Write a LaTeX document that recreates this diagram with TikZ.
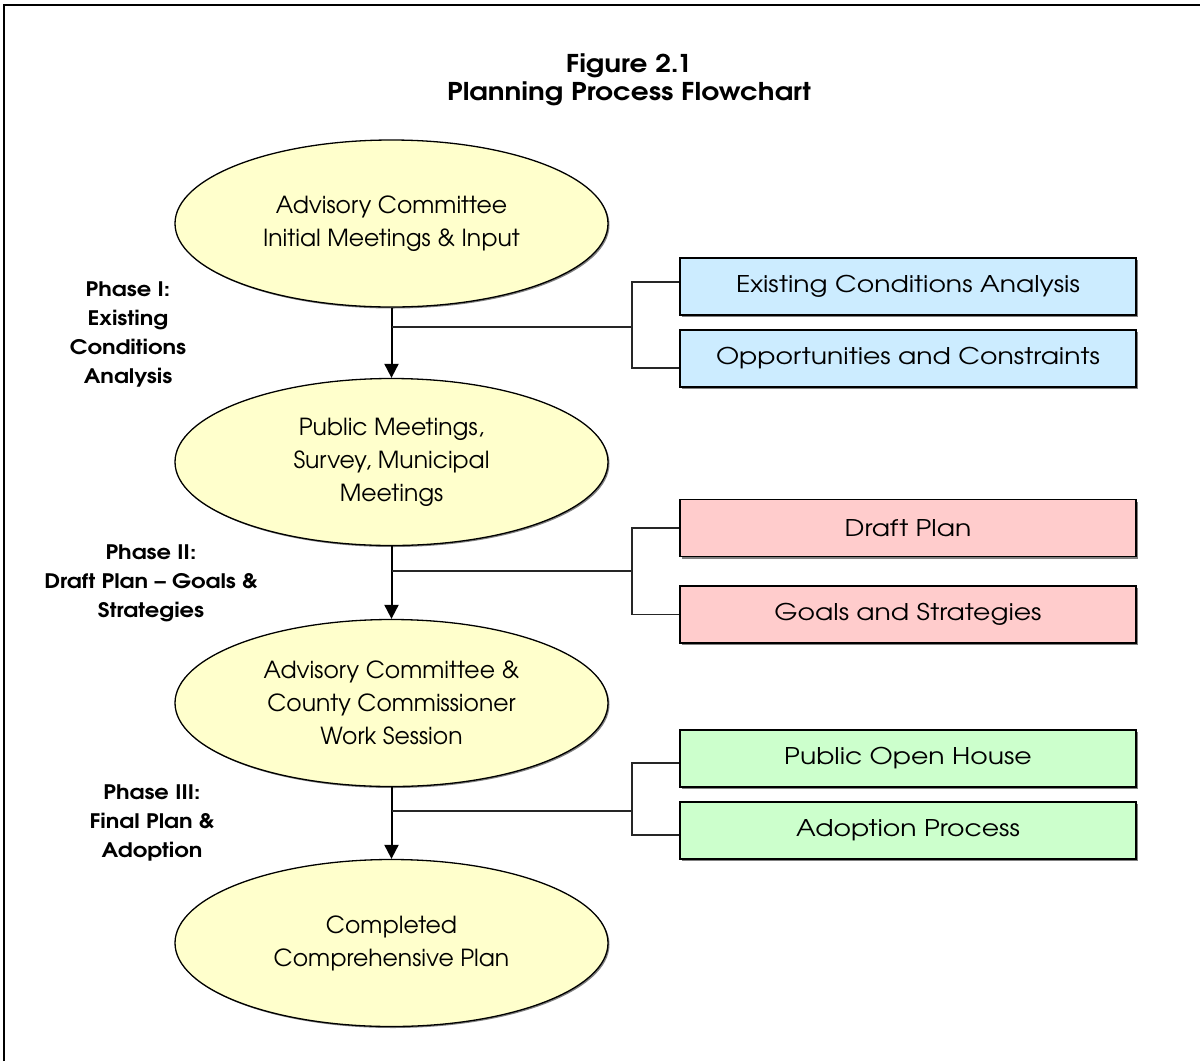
\documentclass[tikz,border=0pt]{standalone}
\usepackage{fontspec}
\setmainfont{TeX Gyre Adventor}
\newfontfamily\widefont[FakeStretch=1.16]{TeX Gyre Adventor}
\newfontfamily\labelfont[FakeStretch=1.13]{TeX Gyre Adventor}
\newfontfamily\titlefont[FakeStretch=1.14]{TeX Gyre Adventor}
\usetikzlibrary{shapes.geometric,arrows.meta,shadows}

\definecolor{stageyellow}{RGB}{255,255,204}
\definecolor{taskblue}{RGB}{204,236,255}
\definecolor{taskpink}{RGB}{255,204,204}
\definecolor{taskgreen}{RGB}{204,255,204}
\definecolor{shadowgray}{RGB}{128,128,128}

\tikzset{
  stage/.style={ellipse, draw=black, line width=1.3pt, fill=stageyellow,
    minimum width=433pt, minimum height=167pt, inner sep=0pt, align=center,
    font=\fontsize{23.5}{33}\selectfont,
    drop shadow={shadow xshift=1.5pt, shadow yshift=-1.5pt, fill=shadowgray, opacity=1}},
  task/.style={rectangle, draw=black, line width=1.8pt,
    minimum width=456pt, minimum height=57pt, inner sep=0pt,
    font=\widefont\fontsize{23}{33}\selectfont,
    drop shadow={shadow xshift=2pt, shadow yshift=-2pt, fill=shadowgray, opacity=1}},
  phase/.style={align=center, inner sep=0pt, font=\labelfont\bfseries\fontsize{20}{29}\selectfont},
  flow/.style={line width=2pt, -{Triangle[width=14pt,length=14pt]}},
  bracket/.style={line width=1.6pt, draw=black!85},
}

\begin{document}
\begin{tikzpicture}[x=1pt,y=-1pt]
\useasboundingbox (0,0) rectangle (1200,1061);
\fill[white] (0,0) rectangle (1200,1061);

% outer frame
\draw[line width=2pt] (4,1061) -- (4,5) -- (1200,5);

% title
\node[align=center, inner sep=0pt, font=\titlefont\bfseries\fontsize{24.5}{28}\selectfont] (title) at (629,80)
  {Figure 2.1\\Planning Process Flowchart};

% main stages
\node[stage] (e1) at (391.5,223.5) {Advisory Committee\\Initial Meetings \& Input};
\node[stage] (e2) at (391.5,462) {Public Meetings,\\Survey, Municipal\\Meetings};
\node[stage] (e3) at (391.5,703) {Advisory Committee \&\\County Commissioner\\Work Session};
\node[stage] (e4) at (391.5,943) {Completed\\Comprehensive Plan};

% phase labels
\node[phase] (p1) at (128,334) {Phase I:\\Existing\\Conditions\\Analysis};
\node[phase] (p2) at (151,583) {Phase II:\\Draft Plan – Goals \&\\Strategies};
\node[phase] (p3) at (152,823) {Phase III:\\Final Plan \&\\Adoption};

% task boxes
\node[task, fill=taskblue] (b1) at (908,286.5) {Existing Conditions Analysis};
\node[task, fill=taskblue] (b2) at (908,358.5) {Opportunities and Constraints};
\node[task, fill=taskpink] (b3) at (908,528) {Draft Plan};
\node[task, fill=taskpink] (b4) at (908,614.5) {Goals and Strategies};
\node[task, fill=taskgreen] (b5) at (908,758.5) {Public Open House};
\node[task, fill=taskgreen] (b6) at (908,830.5) {Adoption Process};

% flow arrows
\draw[flow] (e1.south) -- (e2.north);
\draw[flow] (e2.south) -- (e3.north);
\draw[flow] (e3.south) -- (e4.north);

% junctions on the flow and bracket spines
\coordinate (j1) at (392,327);
\coordinate (j2) at (392,571);
\coordinate (j3) at (392,811);
\coordinate (k1) at (632,327);
\coordinate (k2) at (632,571);
\coordinate (k3) at (632,811);

% brackets to the task boxes
\draw[bracket] (j1) -- (k1);
\draw[bracket] (b1.west |- 0,282) -| (k1) |- (b2.west |- 0,368);
\draw[bracket] (j2) -- (k2);
\draw[bracket] (b3.west) -| (k2) |- (b4.west);
\draw[bracket] (j3) -- (k3);
\draw[bracket] (b5.west |- 0,763) -| (k3) |- (b6.west |- 0,835);
\end{tikzpicture}
\end{document}
